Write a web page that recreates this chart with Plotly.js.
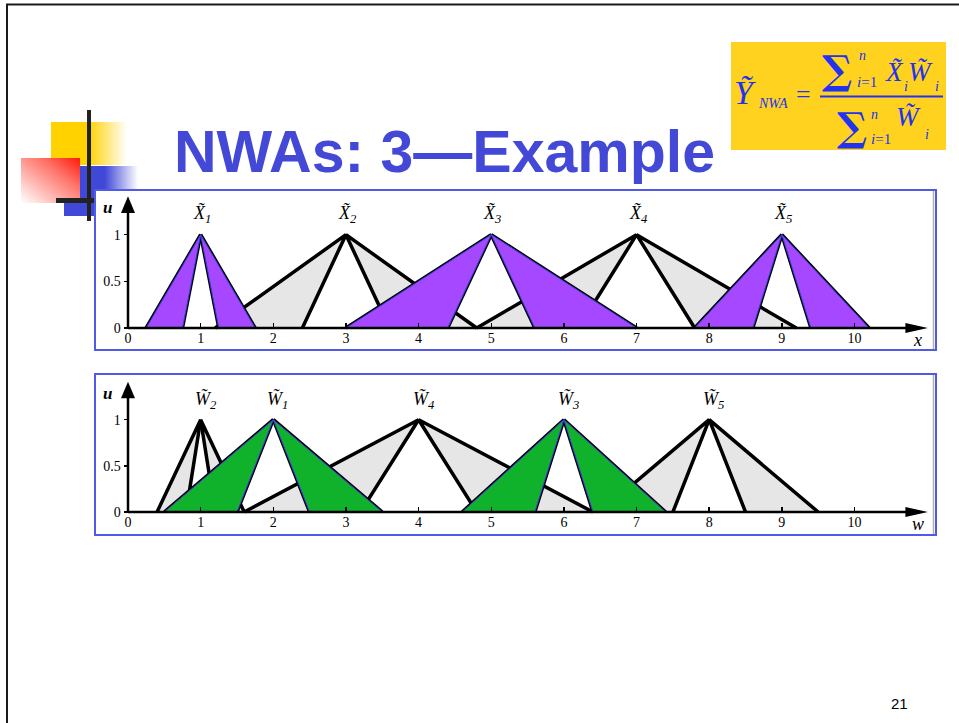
<!DOCTYPE html>
<html><head><meta charset="utf-8">
<script src="https://cdn.plot.ly/plotly-3.0.1.min.js"></script>
<style>html,body{margin:0;padding:0;background:#fff;}#chart{width:959px;height:723px;}</style>
</head><body><div id="chart"></div>
<script>
// ---- Data: FOUs of X_i (top panel) ----
const xNames = ['1', '2', '3', '4', '5'];
const xApex = [1, 3, 5, 7, 9];
const xLeftOuter = [0.25, 1.2, 3.0, 4.8, 7.8];
const xLeftInner = [0.75, 2.4, 4.4, 6.2, 8.6];
const xRightInner = [1.25, 3.6, 5.6, 7.8, 9.4];
const xRightOuter = [1.75, 4.8, 7.0, 9.2, 10.2];
const xHighlighted = [true, false, true, false, true];

// ---- Data: FOUs of W_i (bottom panel) ----
const wNames = ['1', '2', '3', '4', '5'];
const wApex = [2, 1, 6, 4, 8];
const wLeftOuter = [0.5, 0.4, 4.6, 1.6, 6.5];
const wLeftInner = [1.5, 0.8, 5.6, 3.2, 7.5];
const wRightInner = [2.5, 1.2, 6.4, 4.8, 8.5];
const wRightOuter = [3.5, 1.6, 7.4, 6.4, 9.5];
const wHighlighted = [true, false, true, false, false];

// ---- Tick labels ----
const axisTicks = [0, 1, 2, 3, 4, 5, 6, 7, 8, 9, 10];
const uTicks = [0, 0.5, 1];
const uTickText = ['0', '0.5', '1'];

const W = 959, H = 723;
const PX = v => v / W;
const PY = v => 1 - v / H;

const GRAY = '#e6e6e6', PURPLE = '#a548ff', GREEN = '#0fb22a', EDGE = '#3d3de0';

function fouTraces(apex, lo, li, ri, ro, hi, xa, ya, hiColor) {
  const grays = [], lines = [], his = [];
  for (let i = 0; i < apex.length; i++) {
    const polys = [[lo[i], apex[i], li[i], lo[i]], [ri[i], apex[i], ro[i], ri[i]]];
    polys.forEach(px => {
      grays.push({type: 'scatter', mode: 'lines', x: px, y: [0, 1, 0, 0], xaxis: xa, yaxis: ya,
        fill: 'toself', fillcolor: GRAY, line: {width: 0}, hoverinfo: 'skip'});
      if (hi[i]) his.push({type: 'scatter', mode: 'lines', x: px, y: [0, 1, 0, 0], xaxis: xa, yaxis: ya,
        fill: 'toself', fillcolor: hiColor, line: {width: 1, color: EDGE}, hoverinfo: 'skip'});
    });
    lines.push({type: 'scatter', mode: 'lines', xaxis: xa, yaxis: ya, hoverinfo: 'skip',
      x: [lo[i], apex[i], li[i], null, ri[i], apex[i], ro[i]], y: [0, 1, 0, null, 0, 1, 0],
      line: {color: '#000', width: 3.5}});
  }
  return grays.concat(lines, his);
}

const traces = fouTraces(xApex, xLeftOuter, xLeftInner, xRightInner, xRightOuter, xHighlighted, 'x', 'y', PURPLE)
  .concat(fouTraces(wApex, wLeftOuter, wLeftInner, wRightInner, wRightOuter, wHighlighted, 'x2', 'y2', GREEN));

const tickFont = {family: 'Liberation Serif, Times New Roman, serif', size: 14, color: '#000'};
function xAx(posPx) {
  return {domain: [PX(95), PX(935)], range: [-0.4542, 11.108], anchor: 'free', position: PY(posPx),
    showgrid: false, zeroline: false, showline: false, tickmode: 'array', tickvals: axisTicks,
    ticks: 'inside', ticklen: 5, tickwidth: 1.5, tickcolor: '#000', tickfont: tickFont};
}
function yAx(top, bottom, range) {
  return {domain: [PY(bottom), PY(top)], range: range, anchor: 'free', position: PX(128.5),
    showgrid: false, zeroline: false, showline: false, tickmode: 'array', tickvals: uTicks, ticktext: uTickText,
    ticks: 'outside', ticklen: 5, tickwidth: 1.5, tickcolor: '#000', tickfont: tickFont};
}

const shapes = [];
// slide border
shapes.push({type: 'line', xref: 'paper', yref: 'paper', x0: PX(7), x1: PX(7), y0: PY(4.5), y1: PY(723), line: {color: '#1a1a1a', width: 2}, layer: 'below'});
shapes.push({type: 'line', xref: 'paper', yref: 'paper', x0: PX(6), x1: PX(959), y0: PY(4.5), y1: PY(4.5), line: {color: '#1a1a1a', width: 2}, layer: 'below'});
// panel boxes
[[190, 350], [374, 535]].forEach(b => {
  shapes.push({type: 'rect', xref: 'paper', yref: 'paper', x0: PX(95), x1: PX(936), y0: PY(b[1]), y1: PY(b[0]),
    fillcolor: '#fff', line: {color: '#4f5be6', width: 2}, layer: 'below'});
  shapes.push({type: 'line', xref: 'paper', yref: 'paper', x0: PX(933.5), x1: PX(933.5), y0: PY(b[1] - 1), y1: PY(b[0] + 1),
    line: {color: '#b0b0b0', width: 1.5}, layer: 'below'});
});
// axes with arrows
function axisShapes(xr, yr, pxPerX, pxPerU) {
  const xTip = 11.01, xBase = 10.70, hh = 5 / pxPerU;
  const uTip = 1.411, uBase = 1.232, hw = 7 / pxPerX;
  shapes.push({type: 'line', xref: xr, yref: yr, x0: 0, x1: xBase + 0.05, y0: 0, y1: 0, line: {color: '#000', width: 2.5}});
  shapes.push({type: 'line', xref: xr, yref: yr, x0: 0, x1: 0, y0: 0, y1: uBase + 0.05, line: {color: '#000', width: 2.5}});
  shapes.push({type: 'path', xref: xr, yref: yr, path: `M${xTip},0 L${xBase},${hh} L${xBase},${-hh} Z`, fillcolor: '#000', line: {width: 0}});
  shapes.push({type: 'path', xref: xr, yref: yr, path: `M0,${uTip} L${-hw},${uBase} L${hw},${uBase} Z`, fillcolor: '#000', line: {width: 0}});
}
axisShapes('x', 'y', 72.65, 93.3);
axisShapes('x2', 'y2', 72.65, 92.3);
// formula box and fraction bar
shapes.push({type: 'rect', xref: 'paper', yref: 'paper', x0: PX(731), x1: PX(946), y0: PY(150), y1: PY(42), fillcolor: '#ffd21f', line: {width: 0}, layer: 'below'});
shapes.push({type: 'line', xref: 'paper', yref: 'paper', x0: PX(820), x1: PX(943), y0: PY(96.5), y1: PY(96.5), line: {color: '#2233ee', width: 2}});

const annotations = [];
function ann(text, x, y, size, opts) {
  annotations.push(Object.assign({xref: 'paper', yref: 'paper', x: PX(x), y: PY(y), text: text, showarrow: false,
    xanchor: 'center', yanchor: 'middle', font: {family: 'Liberation Serif, serif', size: size, color: '#000'}}, opts || {}));
}
// title and page number
ann('NWAs: 3\u2014Example', 172, 152, 59, {xanchor: 'left', font: {family: 'Liberation Sans, Arial, sans-serif', size: 59, color: '#4349d6', weight: 'bold'}});
ann('21', 899, 703, 15, {font: {family: 'Liberation Sans, Arial, sans-serif', size: 15, color: '#000'}});
// axis letters
ann('<b><i>u</i></b>', 107, 208, 17);
ann('<i>x</i>', 917, 340, 18);
ann('<b><i>u</i></b>', 107, 394, 17);
ann('<i>w</i>', 918, 524, 18);
// FOU labels
for (let i = 0; i < xApex.length; i++) {
  annotations.push({xref: 'x', yref: 'y', x: xApex[i], y: 1, yshift: 20, xshift: -10, xanchor: 'left', yanchor: 'middle', showarrow: false,
    text: `<i>X\u0303</i><sub><i>${xNames[i]}</i></sub>`, font: {family: 'Liberation Serif, serif', size: 18, color: '#000'}});
}
for (let i = 0; i < wApex.length; i++) {
  annotations.push({xref: 'x2', yref: 'y2', x: wApex[i], y: 1, yshift: 19, xshift: -8, xanchor: 'left', yanchor: 'middle', showarrow: false,
    text: `<i>W\u0303</i><sub><i>${wNames[i]}</i></sub>`, font: {family: 'Liberation Serif, serif', size: 18, color: '#000'}});
}
// formula
const FB = '#2233ee';
const ff = (s) => ({family: 'Liberation Serif, serif', size: s, color: FB});
ann('<i>\u1EF8</i>', 745, 92, 34, {font: ff(34)});
ann('<i>NWA</i>', 773, 104, 14, {font: ff(14)});
ann('=', 803, 95, 26, {font: ff(26)});
ann('\u2211', 837, 70, 40, {font: {family: 'DejaVu Serif, serif', size: 40, color: FB, weight: 'bold'}});
ann('<i>n</i>', 862, 56, 14, {font: ff(14)});
ann('<i>i</i>=1', 867, 82, 15, {font: ff(15)});
ann('<i>X\u0303</i>', 894, 72, 27, {font: ff(27)});
ann('<i>i</i>', 906, 86, 14, {font: ff(14)});
ann('<i>W\u0303</i>', 920, 72, 27, {font: ff(27)});
ann('<i>i</i>', 937, 86, 14, {font: ff(14)});
ann('\u2211', 852, 126, 40, {font: {family: 'DejaVu Serif, serif', size: 40, color: FB, weight: 'bold'}});
ann('<i>n</i>', 874, 114, 14, {font: ff(14)});
ann('<i>i</i>=1', 881, 139, 15, {font: ff(15)});
ann('<i>W\u0303</i>', 908, 117, 27, {font: ff(27)});
ann('<i>i</i>', 927, 134, 14, {font: ff(14)});

// decoration (gradients) as an inline SVG image
const deco = `<svg xmlns="http://www.w3.org/2000/svg" width="140" height="130" viewBox="0 0 140 130">
<defs>
<linearGradient id="gy" x1="0" y1="0" x2="1" y2="0"><stop offset="0" stop-color="#ffd200"/><stop offset="0.49" stop-color="#ffd200"/><stop offset="1" stop-color="#ffd200" stop-opacity="0"/></linearGradient>
<linearGradient id="gb" x1="0" y1="0" x2="1" y2="0"><stop offset="0" stop-color="#4048d8"/><stop offset="0.55" stop-color="#4048d8"/><stop offset="1" stop-color="#4048d8" stop-opacity="0"/></linearGradient>
<linearGradient id="gr" x1="1" y1="0" x2="0" y2="1"><stop offset="0" stop-color="#ff1a0a"/><stop offset="0.35" stop-color="#ff1a0a" stop-opacity="0.6"/><stop offset="1" stop-color="#ff1a0a" stop-opacity="0.0"/></linearGradient>
</defs>
<rect x="51" y="22" width="76" height="43" fill="url(#gy)"/>
<rect x="64" y="66" width="74" height="50" fill="url(#gb)"/>
<rect x="21" y="58" width="59" height="45" fill="#fff"/>
<rect x="21" y="58" width="59" height="45" fill="url(#gr)"/>
<rect x="87" y="10" width="4" height="111" fill="#222"/>
<rect x="56" y="98" width="39" height="5" fill="#222"/>
</svg>`;
const images = [{source: 'data:image/svg+xml;charset=utf-8,' + encodeURIComponent(deco), xref: 'paper', yref: 'paper',
  x: PX(0), y: PY(100), sizex: 140 / W, sizey: 130 / H, xanchor: 'left', yanchor: 'top', sizing: 'stretch', layer: 'below'}];

const layout = {
  width: W, height: H, margin: {l: 0, r: 0, t: 0, b: 0}, paper_bgcolor: '#fff', plot_bgcolor: 'rgba(0,0,0,0)',
  showlegend: false,
  xaxis: xAx(328), yaxis: yAx(190, 350, [-0.2358, 1.479]),
  xaxis2: xAx(512), yaxis2: yAx(374, 535, [-0.2492, 1.4951]),
  shapes: shapes, annotations: annotations, images: images
};
Plotly.newPlot('chart', traces, layout, {staticPlot: true, displayModeBar: false});
</script></body></html>
